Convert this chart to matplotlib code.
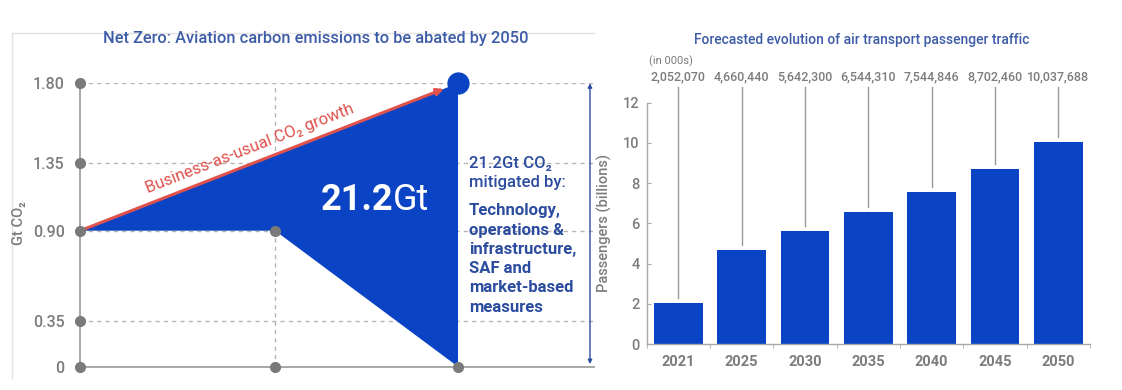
import numpy as np
import matplotlib
matplotlib.use("Agg")
import matplotlib.pyplot as plt
from matplotlib.lines import Line2D
from matplotlib.ticker import FixedLocator

plt.rcParams['font.family'] = ['Roboto', 'DejaVu Sans']

# ---------------- data ----------------
# Left chart: Net zero schematic
co2_ticks = [0, 0.35, 0.90, 1.35, 1.80]
co2_tick_labels = ['0', '0.35', '0.90', '1.35', '1.80']
years_nz = [2019, 2035, 2050]
bau_values = [0.90, 1.80]            # business-as-usual start/end
netzero_values = [0.90, 0.90, 0.0]   # net-zero path
abated_total = "21.2"

# Right chart: passenger traffic
pax_years = ['2021', '2025', '2030', '2035', '2040', '2045', '2050']
pax_thousands = [2052070, 4660440, 5642300, 6544310, 7544846, 8702460, 10037688]
pax_billions = [v / 1e6 for v in pax_thousands]
pax_ticks = [0, 2, 4, 6, 8, 10, 12]

# ---------------- styles ----------------
W, H = 1122, 390
BLUE = '#0a44c4'
RED = '#e0524c'
GREY = '#7c7c7c'
GRID = '#b5b5b5'
TXT_BLUE = '#2b4c9f'
TITLE_BLUE = '#3d5ca8'

fig = plt.figure(figsize=(W / 100, H / 100), dpi=100)


def fx(px):
    return px / W


def fy(py):
    return 1 - py / H


# ---------- left axes (schematic, non-uniform y scale) ----------
_pos = [0, 45.7, 136.0, 203.4, 283.4]


def _fwd(v):
    v = np.asarray(v, dtype=float)
    a = np.atleast_1d(v)
    out = np.interp(a, co2_ticks, _pos)
    s_hi = (_pos[-1] - _pos[-2]) / (co2_ticks[-1] - co2_ticks[-2])
    s_lo = (_pos[1] - _pos[0]) / (co2_ticks[1] - co2_ticks[0])
    hi = a > co2_ticks[-1]
    lo = a < co2_ticks[0]
    out[hi] = _pos[-1] + (a[hi] - co2_ticks[-1]) * s_hi
    out[lo] = _pos[0] + (a[lo] - co2_ticks[0]) * s_lo
    return out.reshape(v.shape)


def _inv(p):
    p = np.asarray(p, dtype=float)
    a = np.atleast_1d(p)
    out = np.interp(a, _pos, co2_ticks)
    s_hi = (co2_ticks[-1] - co2_ticks[-2]) / (_pos[-1] - _pos[-2])
    s_lo = (co2_ticks[1] - co2_ticks[0]) / (_pos[1] - _pos[0])
    hi = a > _pos[-1]
    lo = a < _pos[0]
    out[hi] = co2_ticks[-1] + (a[hi] - _pos[-1]) * s_hi
    out[lo] = co2_ticks[0] + (a[lo] - _pos[0]) * s_lo
    return out.reshape(p.shape)


axL = fig.add_axes([fx(80), fy(366.7), fx(594) - fx(80), fy(83.3) - fy(366.7)])
axL.set_yscale('function', functions=(_fwd, _inv))
axL.set_ylim(0, 1.8)
x0, x1, x2 = years_nz
axL.set_xlim(x0, x0 + (594 - 80) / ((458 - 80) / (x2 - x0)))

for s in ['top', 'right']:
    axL.spines[s].set_visible(False)
for s in ['left', 'bottom']:
    axL.spines[s].set_color('#a0a0a0')
    axL.spines[s].set_linewidth(1.3)
    axL.spines[s].set_zorder(1)

axL.yaxis.set_major_locator(FixedLocator(co2_ticks))
axL.set_yticklabels(co2_tick_labels)
axL.yaxis.set_minor_locator(FixedLocator([]))
axL.tick_params(axis='y', length=0, pad=11, labelsize=11.5, labelcolor=GREY)
for lab in axL.get_yticklabels():
    lab.set_fontweight('medium')
axL.set_xticks([])

# gridlines
for v in co2_ticks[1:]:
    axL.plot([x0, axL.get_xlim()[1]], [v, v], ls=(0, (3, 3)), color=GRID, lw=1, zorder=1)
axL.plot([x1, x1], [0, co2_ticks[-1]], ls=(0, (3, 3)), color=GRID, lw=1, zorder=1)

# abated area
axL.fill([x0, x2, x2, x1], [bau_values[0], bau_values[1], netzero_values[2], netzero_values[1]],
         color=BLUE, lw=0, zorder=2)

# BAU arrow
axL.annotate('', xy=(x2, bau_values[1]), xytext=(x0, bau_values[0]),
             arrowprops=dict(arrowstyle='-|>', color=RED, lw=2.2, mutation_scale=10,
                             shrinkA=0, shrinkB=11), zorder=4)

# dots
dot_kw = dict(marker='o', color='#7a7a7a', ms=7, ls='none', zorder=5, clip_on=False)
axL.plot([x0] * len(co2_ticks), co2_ticks, **dot_kw)
axL.plot([x1, x2], [0, 0], **dot_kw)
axL.plot([x1], [netzero_values[1]], **dot_kw)
axL.plot([x2], [bau_values[1]], marker='o', color=BLUE, ms=15, ls='none', zorder=6, clip_on=False)

# double arrow on the right
xa = x0 + (590 - 80) / ((458 - 80) / (x2 - x0))
axL.annotate('', xy=(xa, 0.02), xytext=(xa, bau_values[1]),
             arrowprops=dict(arrowstyle='<|-|>', color=TXT_BLUE, lw=1, mutation_scale=6,
                             shrinkA=0, shrinkB=0))

# texts on the left chart
axL.text(2032.9, 1.43, 'Business-as-usual CO₂ growth', color=RED, fontsize=12,
         rotation=21.3, rotation_mode='anchor', ha='center', va='center', zorder=5)
fig.text(fx(393), fy(200), abated_total, color='white', fontsize=26, fontweight='bold',
         ha='right', va='center', zorder=10)
fig.text(fx(393), fy(200), 'Gt', color='white', fontsize=26, ha='left', va='center', zorder=10)

lines_a = ['21.2Gt CO₂', 'mitigated by:']
for t, yy in zip(lines_a, [163, 182]):
    fig.text(fx(469), fy(yy), t, color=TXT_BLUE, fontsize=12, fontweight='medium', va='center')
lines_b = ['Technology,', 'operations &', 'infrastructure,', 'SAF and', 'market-based', 'measures']
for i, t in enumerate(lines_b):
    fig.text(fx(469), fy(211 + 19.2 * i), t, color=TXT_BLUE, fontsize=12, fontweight='bold', va='center')

fig.text(fx(19), fy(223), 'Gt CO₂', rotation=90, color=GREY, fontsize=10.5, fontweight='medium',
         ha='center', va='center')
fig.text(fx(316), fy(38), 'Net Zero: Aviation carbon emissions to be abated by 2050',
         color=TITLE_BLUE, fontsize=11.8, fontweight='medium', ha='center', va='center')

# faint screenshot border
fig.add_artist(Line2D([fx(12), fx(12)], [fy(33), fy(378)], color='#e2e2e2', lw=1))
fig.add_artist(Line2D([fx(12), fx(594)], [fy(33), fy(33)], color='#e2e2e2', lw=1))

# ---------- right axes (bar chart) ----------
axR = fig.add_axes([fx(646.5), fy(344), fx(1090) - fx(646.5), fy(102.7) - fy(344)])
xpos = np.arange(len(pax_years))
axR.bar(xpos, pax_billions, width=0.77, color=BLUE, zorder=2)
axR.set_xlim(-0.5, len(pax_years) - 0.5)
axR.set_ylim(0, 12)
for s in ['top', 'right']:
    axR.spines[s].set_visible(False)
for s in ['left', 'bottom']:
    axR.spines[s].set_color('#a8a8a8')
    axR.spines[s].set_linewidth(1)
axR.set_yticks(pax_ticks)
axR.tick_params(axis='y', direction='in', length=3, color='#a8a8a8', labelsize=10.5,
                labelcolor=GREY, pad=5)
for lab in axR.get_yticklabels():
    lab.set_fontweight('medium')
axR.set_xticks(xpos)
axR.set_xticklabels(pax_years)
axR.tick_params(axis='x', length=0, labelsize=10.5, labelcolor=GREY, pad=8)
axR.set_xticks(np.arange(-0.5, len(pax_years), 1.0), minor=True)
axR.tick_params(axis='x', which='minor', direction='out', length=3, color='#a8a8a8')
for lab in axR.get_xticklabels():
    lab.set_fontweight('bold')
axR.set_ylabel('Passengers (billions)', color=GREY, fontsize=10.5, fontweight='medium', labelpad=8)

for i, (v, raw) in enumerate(zip(pax_billions, pax_thousands)):
    axR.plot([i, i], [v + 0.25, 12.8], color='#9a9a9a', lw=1, clip_on=False, zorder=1)
    axR.text(i, 13.3, f'{raw:,}', color=GREY, fontsize=9, fontweight='medium',
             ha='center', va='center', clip_on=False)
axR.text(-0.46, 14.05, '(in 000s)', color=GREY, fontsize=8, ha='left', va='center', clip_on=False)

fig.text(fx(862), fy(40), 'Forecasted evolution of air transport passenger traffic',
         color=TITLE_BLUE, fontsize=10, fontweight='medium', ha='center', va='center')

fig.savefig('out.png', dpi=100)
